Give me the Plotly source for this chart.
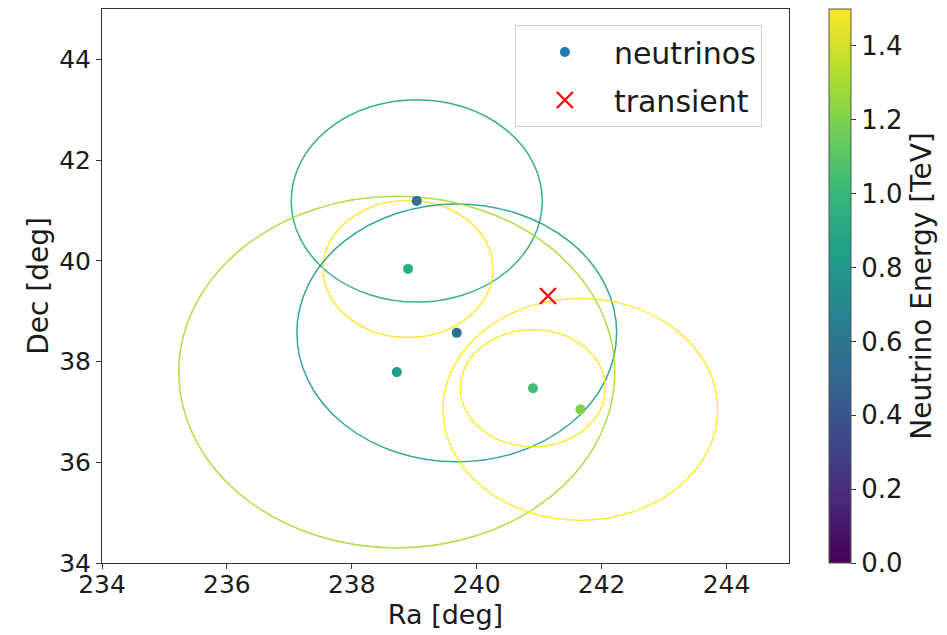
import plotly.graph_objects as go
from plotly.colors import sample_colorscale

# ---- data ----
nu_ra = [239.04, 238.90, 239.68, 238.72, 240.90, 241.66]
nu_dec = [41.19, 39.84, 38.57, 37.79, 37.47, 37.05]
nu_energy = [0.58, 0.94, 0.56, 0.84, 1.03, 1.21]
nu_radius = [2.01, 1.36, 2.56, 3.49, 1.16, 2.20]
circle_value = [0.90, 1.50, 0.84, 1.30, 1.50, 1.50]

transient_ra = [241.14]
transient_dec = [39.30]

x_ticks = [234, 236, 238, 240, 242, 244]
y_ticks = [34, 36, 38, 40, 42, 44]
cbar_ticks = [0.0, 0.2, 0.4, 0.6, 0.8, 1.0, 1.2, 1.4]

EMIN, EMAX = 0.0, 1.5
FONT = "DejaVu Sans"

fig = go.Figure()

# circles (error regions) as shapes in data coordinates
shapes = []
for cx, cy, r, v in zip(nu_ra, nu_dec, nu_radius, circle_value):
    col = sample_colorscale("Viridis", [(min(v, EMAX) - EMIN) / (EMAX - EMIN)])[0]
    shapes.append(dict(type="circle", xref="x", yref="y",
                       x0=cx - r, x1=cx + r, y0=cy - r, y1=cy + r,
                       line=dict(color=col, width=1.5), opacity=0.9, layer="below"))

# neutrino points
fig.add_trace(go.Scatter(
    x=nu_ra, y=nu_dec, mode="markers", showlegend=False,
    marker=dict(size=10, color=nu_energy, colorscale="Viridis", cmin=EMIN, cmax=EMAX,
                line=dict(width=0),
                showscale=True,
                colorbar=dict(
                    x=1.058, xanchor="left", xref="paper", xpad=0, ypad=0,
                    y=0, yanchor="bottom", len=1, lenmode="fraction",
                    thickness=22, outlinewidth=1, outlinecolor="#555",
                    ticks="outside", ticklen=5, tickcolor="#333",
                    tickvals=cbar_ticks, ticktext=[f"{t:.1f}" for t in cbar_ticks],
                    tickfont=dict(family=FONT, size=26, color="#1a1a1a"),
                    title=dict(text="Neutrino Energy [TeV]", side="right",
                               font=dict(family=FONT, size=28, color="#1a1a1a")),
                ))))

# transient
fig.add_trace(go.Scatter(
    x=transient_ra, y=transient_dec, mode="markers", showlegend=False,
    marker=dict(symbol="x-thin", size=16, line=dict(width=2.2, color="red"), color="red")))

# legend entries
fig.add_trace(go.Scatter(x=[None], y=[None], mode="markers", name="neutrinos",
                         legendgroup="a",
                         marker=dict(size=10, color="#1f77b4")))
fig.add_trace(go.Scatter(x=[None], y=[None], mode="markers", name="transient",
                         legendgroup="b",
                         marker=dict(symbol="x-thin", size=16, color="red",
                                     line=dict(width=2.2, color="red"))))

axis_common = dict(showline=True, mirror=True, linecolor="#333", linewidth=1,
                   ticks="outside", ticklen=5, tickcolor="#333",
                   showgrid=False, zeroline=False,
                   tickfont=dict(family=FONT, size=25, color="#1a1a1a"))

fig.update_layout(
    width=947, height=635,
    margin=dict(l=102, r=158, t=9, b=72, autoexpand=False),
    paper_bgcolor="white", plot_bgcolor="white",
    shapes=shapes,
    xaxis=dict(range=[234, 245], tickvals=x_ticks, ticklabelstandoff=-6,
               title=dict(text="Ra [deg]", font=dict(family=FONT, size=27, color="#1a1a1a"), standoff=3),
               **axis_common),
    yaxis=dict(range=[34, 45], tickvals=y_ticks,
               title=dict(text="Dec [deg]", font=dict(family=FONT, size=28, color="#1a1a1a"), standoff=2),
               **axis_common),
    legend=dict(x=0.601, y=0.971, xanchor="left", yanchor="top",
                bordercolor="#cccccc", borderwidth=1, bgcolor="rgba(255,255,255,0.8)",
                font=dict(family=FONT, size=30, color="#1a1a1a"),
                itemwidth=88, tracegroupgap=6),
    font=dict(family=FONT),
)

fig.write_html("out.html")
